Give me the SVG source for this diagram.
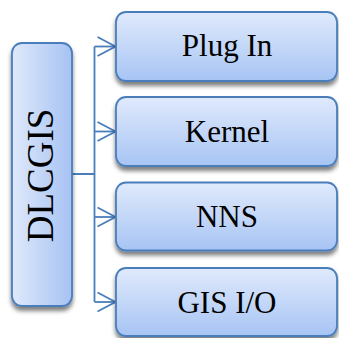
<svg xmlns="http://www.w3.org/2000/svg" width="339" height="338" viewBox="0 0 339 338">
  <defs>
    <linearGradient id="gradH" x1="0" y1="0" x2="1" y2="0">
      <stop offset="0" stop-color="#dfe9fb"/>
      <stop offset="1" stop-color="#a6c2f3"/>
    </linearGradient>
    <linearGradient id="gradV" x1="0" y1="0" x2="0" y2="1">
      <stop offset="0" stop-color="#e0eafc"/>
      <stop offset="1" stop-color="#a7c4f4"/>
    </linearGradient>
    <filter id="shadow" x="-20%" y="-20%" width="140%" height="150%">
      <feDropShadow dx="0" dy="4" stdDeviation="2.2" flood-color="#000" flood-opacity="0.5"/>
    </filter>
    <marker id="arrow" viewBox="0 0 20 22" refX="19" refY="11" markerWidth="20" markerHeight="22" markerUnits="userSpaceOnUse" orient="auto">
      <path d="M1,1.5 L19,11 L1,20.5" fill="none" stroke="#4a7ebb" stroke-width="1.8"/>
    </marker>
    <style>
      .box { stroke: #4a7ebb; stroke-width: 1.8; filter: url(#shadow); }
      .root { fill: url(#gradH); }
      .child { fill: url(#gradV); }
      .label { font-family: "Liberation Serif", "Times New Roman", serif; font-size: 31px; fill: #000; text-anchor: middle; }
      .conn { fill: none; stroke: #4a7ebb; stroke-width: 1.8; }
    </style>
  </defs>

  <!-- connectors: root to trunk, trunk to each child -->
  <g id="connectors">
    <path class="conn" d="M72,174 H94.5 M94.5,46.5 V302"/>
    <path class="conn" d="M94.5,46.5 H115.5" marker-end="url(#arrow)"/>
    <path class="conn" d="M94.5,131.5 H115.5" marker-end="url(#arrow)"/>
    <path class="conn" d="M94.5,217 H115.5" marker-end="url(#arrow)"/>
    <path class="conn" d="M94.5,302 H115.5" marker-end="url(#arrow)"/>
  </g>

  <g id="dlcgis">
    <rect class="box root" x="12" y="43" width="60" height="263" rx="10"/>
    <text class="label" style="font-size:37px" transform="translate(53,175.5) rotate(-90)">DLCGIS</text>
  </g>

  <g id="plug-in">
    <rect class="box child" x="116" y="12" width="221" height="69" rx="10"/>
    <text class="label" x="227" y="56">Plug In</text>
  </g>

  <g id="kernel">
    <rect class="box child" x="116" y="97" width="221" height="69" rx="10"/>
    <text class="label" x="227" y="141.5">Kernel</text>
  </g>

  <g id="nns">
    <rect class="box child" x="116" y="182.5" width="221" height="68" rx="10"/>
    <text class="label" x="227" y="227">NNS</text>
  </g>

  <g id="gis-io">
    <rect class="box child" x="116" y="268" width="221" height="68" rx="10"/>
    <text class="label" x="227" y="312.5">GIS I/O</text>
  </g>
</svg>
